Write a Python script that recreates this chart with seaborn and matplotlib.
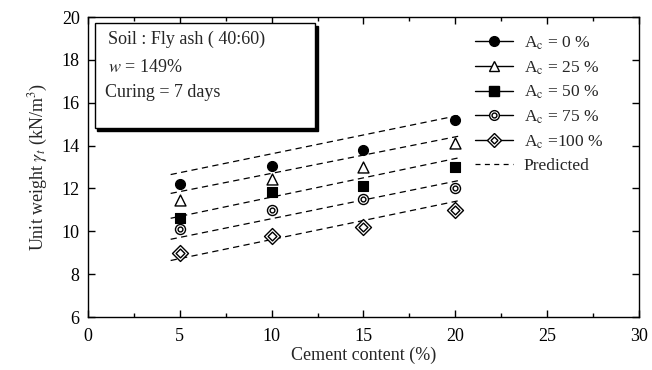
import matplotlib
matplotlib.use("Agg")
import matplotlib.pyplot as plt
import seaborn as sns
import pandas as pd
from matplotlib.lines import Line2D
from matplotlib.legend_handler import HandlerTuple
from matplotlib.patches import Rectangle
from matplotlib.ticker import MultipleLocator

# ---------------- data ----------------
cement = [5, 10, 15, 20]
ac0 = [12.2, 13.05, 13.8, 15.2]
ac25 = [11.45, 12.45, 13.0, 14.1]
ac50 = [10.6, 11.85, 12.1, 13.0]
ac75 = [10.1, 11.0, 11.5, 12.0]
ac100 = [9.0, 9.8, 10.2, 11.0]

pred_x = [4.5, 20.3]
pred0 = [12.65, 15.43]
pred25 = [11.77, 14.46]
pred50 = [10.61, 13.45]
pred75 = [9.63, 12.39]
pred100 = [8.64, 11.45]

labels = ["A$_{\\rm c}$ = 0 %", "A$_{\\rm c}$ = 25 %", "A$_{\\rm c}$ = 50 %",
          "A$_{\\rm c}$ = 75 %", "A$_{\\rm c}$ =100 %"]
pred_label = "Predicted"
x_label = "Cement content (%)"
y_label = "Unit weight $\\gamma_t$ (kN/m$^3$)"
box_lines = ["Soil : Fly ash ( 40:60)", "$w$ = 149%", "Curing = 7 days"]

# ---------------- style ----------------
sns.set_style("ticks")
plt.rcParams["font.family"] = ["Liberation Serif", "DejaVu Serif"]
plt.rcParams["mathtext.fontset"] = "stix"

fig = plt.figure(figsize=(6.52, 3.70), dpi=100)
ax = fig.add_axes([0.135, 0.143, 0.845, 0.811])

dash = (0, (5, 3.5))
for p in [pred0, pred25, pred50, pred75, pred100]:
    sns.lineplot(x=pred_x, y=p, ax=ax, color="black", linewidth=0.9,
                 linestyle=dash, legend=False)

# markers
sns.scatterplot(x=cement, y=ac0, ax=ax, marker="o", s=52, color="black",
                edgecolor="black", linewidth=0.8, legend=False, zorder=3)
sns.scatterplot(x=cement, y=ac25, ax=ax, marker="^", s=62, color="white",
                edgecolor="black", linewidth=1.0, legend=False, zorder=3)
sns.scatterplot(x=cement, y=ac50, ax=ax, marker="s", s=48, color="black",
                edgecolor="black", linewidth=0.8, legend=False, zorder=3)
sns.scatterplot(x=cement, y=ac75, ax=ax, marker="o", s=52, color="white",
                edgecolor="black", linewidth=1.0, legend=False, zorder=3)
sns.scatterplot(x=cement, y=ac75, ax=ax, marker="o", s=12, color="white",
                edgecolor="black", linewidth=1.0, legend=False, zorder=4)
sns.scatterplot(x=cement, y=ac100, ax=ax, marker="D", s=66, color="white",
                edgecolor="black", linewidth=1.0, legend=False, zorder=3)
sns.scatterplot(x=cement, y=ac100, ax=ax, marker="D", s=20, color="white",
                edgecolor="black", linewidth=1.0, legend=False, zorder=4)

ax.set_xlim(0, 30)
ax.set_ylim(6, 20)
ax.xaxis.set_major_locator(MultipleLocator(5))
ax.xaxis.set_minor_locator(MultipleLocator(2.5))
ax.yaxis.set_major_locator(MultipleLocator(2))
ax.tick_params(which="both", direction="in", top=True, right=True,
               width=1, colors="black")
ax.tick_params(which="major", length=5, labelsize=13)
ax.tick_params(which="minor", length=3)
ax.tick_params(axis="y", pad=6)
ax.tick_params(axis="x", pad=8)
for sp in ax.spines.values():
    sp.set_linewidth(1.0)
    sp.set_color("black")

ax.set_xlabel(x_label, fontsize=13, labelpad=1)
ax.set_ylabel(y_label, fontsize=13, labelpad=8)

# legend
lw = 1.0
h0 = Line2D([], [], color="black", lw=lw, marker="o", ms=7, mfc="black", mec="black")
h25 = Line2D([], [], color="black", lw=lw, marker="^", ms=7, mfc="white", mec="black")
h50 = Line2D([], [], color="black", lw=lw, marker="s", ms=6.5, mfc="black", mec="black")
h75a = Line2D([], [], color="black", lw=lw, marker="o", ms=7, mfc="white", mec="black")
h75b = Line2D([], [], color="none", lw=0, marker="o", ms=3.5, mfc="white", mec="black")
h100a = Line2D([], [], color="black", lw=lw, marker="D", ms=7, mfc="white", mec="black")
h100b = Line2D([], [], color="none", lw=0, marker="D", ms=3.5, mfc="white", mec="black")
hp = Line2D([], [], color="black", lw=0.9, linestyle=(0, (4, 3.5)))
leg = ax.legend([h0, h25, h50, (h75a, h75b), (h100a, h100b), hp],
                labels + [pred_label],
                handler_map={tuple: HandlerTuple(ndivide=1)},
                loc="upper left", bbox_to_anchor=(0.69, 0.965),
                frameon=False, fontsize=12.5, handlelength=2.2,
                handletextpad=0.6, labelspacing=0.42, borderaxespad=0)

# text box with shadow
bx0, by0, bw, bh = 0.0127, 0.63, 0.40, 0.35
shadow = Rectangle((bx0 + 0.0045, by0 - 0.009), bw, bh, transform=ax.transAxes,
                   facecolor="black", edgecolor="black", zorder=5)
box = Rectangle((bx0, by0), bw, bh, transform=ax.transAxes,
                facecolor="white", edgecolor="black", linewidth=1.0, zorder=6)
ax.add_patch(shadow)
ax.add_patch(box)
ys = [0.927, 0.833, 0.75]
xs = [0.036, 0.036, 0.031]
for t, x, y in zip(box_lines, xs, ys):
    ax.text(x, y, t, transform=ax.transAxes, fontsize=13, va="center",
            ha="left", zorder=7)

fig.savefig("out.png", dpi=100)
